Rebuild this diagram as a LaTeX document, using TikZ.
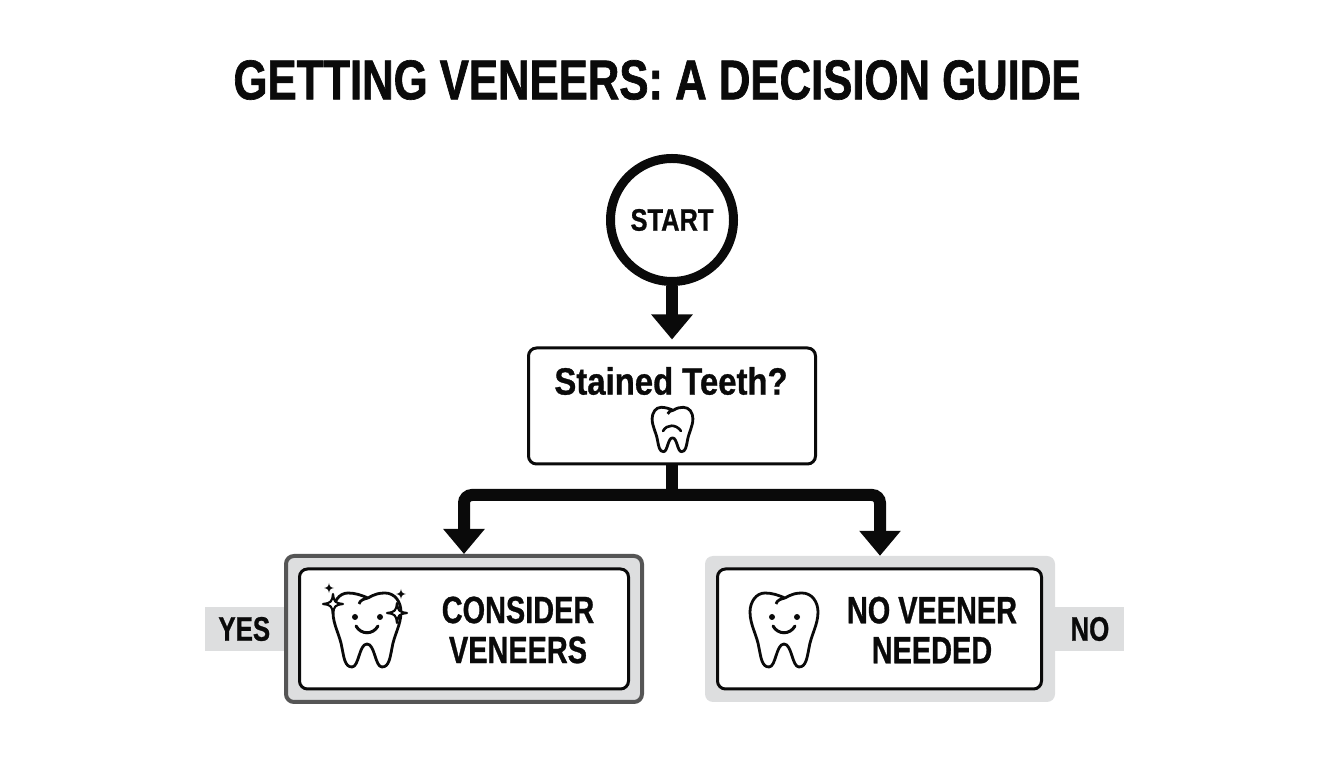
\documentclass[tikz,border=0pt]{standalone}
\usepackage{fontspec}
\setmainfont[FakeStretch=0.82,FakeBold=0.8]{Liberation Sans Bold}
\newfontfamily\titlefont[FakeStretch=0.78,FakeBold=1.2]{Liberation Sans Bold}
\newfontfamily\stainedfont[FakeStretch=0.865,FakeBold=0.8]{Liberation Sans Bold}
\newfontfamily\resultfont[FakeStretch=0.76,FakeBold=0.8]{Liberation Sans Bold}
\usepackage{tikz}
\usetikzlibrary{positioning,arrows.meta}
\definecolor{ink}{HTML}{0A0A0A}
\definecolor{panel}{HTML}{DDDEDF}
\definecolor{rim}{HTML}{555555}
\tikzset{
    x=1pt,y=1pt,
    every node/.style={text=ink,inner sep=0pt},
    flow/.style={draw=ink,line width=12pt,-{Triangle[length=25pt,width=40pt]}},
    stalk/.style={draw=ink,line width=12pt},
    whitebox/.style={draw=ink,line width=3pt,fill=white,rounded corners=8pt},
    outerbox/.style={fill=panel,rounded corners=8pt,minimum height=146pt},
    tagbox/.style={fill=panel,minimum height=44pt,font=\resultfont\fontsize{34}{36}\selectfont},
    resulttext/.style={font=\resultfont\fontsize{38}{40}\selectfont,align=center},
    toothshape/.pic={
        \draw[ink,line width=2.8pt,fill=white,line join=round]
            (1,32) .. controls (8,36) and (12,37) .. (18,37)
            .. controls (28,37) and (34,28) .. (34,18)
            .. controls (34,5) and (27,-5) .. (25,-18)
            .. controls (23,-28) and (22,-37) .. (15,-37)
            .. controls (8,-37) and (8,-14) .. (0,-14)
            .. controls (-8,-14) and (-8,-37) .. (-15,-37)
            .. controls (-22,-37) and (-23,-28) .. (-25,-18)
            .. controls (-27,-5) and (-34,5) .. (-34,18)
            .. controls (-34,28) and (-28,37) .. (-19,37)
            .. controls (-12,37) and (-6,35) .. (1,32)
            .. controls (-3,31) and (-7,30) .. (-8,26);
    },
    smileface/.pic={
        \fill[ink] (-12,13) circle (3) (13,13) circle (3);
        \draw[ink,line width=3pt,line cap=round] (-11,4) .. controls (-6,-5) and (6,-5) .. (11,4);
    },
    sparkle/.pic={
        \draw[ink,line width=2.2pt,fill=white,line join=round]
            (0,10) .. controls (1,2) and (2,1) .. (10,0)
            .. controls (2,-1) and (1,-2) .. (0,-10)
            .. controls (-1,-2) and (-2,-1) .. (-10,0)
            .. controls (-2,1) and (-1,2) .. (0,10) -- cycle;
    },
    sparkledot/.pic={
        \fill[ink]
            (0,5) .. controls (0.6,1.4) and (1.4,0.6) .. (5,0)
            .. controls (1.4,-0.6) and (0.6,-1.4) .. (0,-5)
            .. controls (-0.6,-1.4) and (-1.4,-0.6) .. (-5,0)
            .. controls (-1.4,0.6) and (-0.6,1.4) .. (0,5) -- cycle;
    },
}
\begin{document}
\begin{tikzpicture}
    \useasboundingbox (0,0) rectangle (1344,768);
    \node (title) at (657,688) {\titlefont\fontsize{56}{60}\selectfont GETTING VENEERS: A DECISION GUIDE};

    \node[circle,draw=ink,line width=9pt,fill=white,minimum size=123pt,font=\fontsize{31}{33}\selectfont] (start) at (672,548) {START};
    \node[whitebox,minimum width=287pt,minimum height=116pt] (stained) at (672,362) {};
    \node[font=\stainedfont\fontsize{38}{40}\selectfont] (stainedtext) at (671,387) {Stained Teeth?};
    \pic[scale=0.6] at (672.5,338.5) {toothshape};
    \draw[ink,line width=2.6pt,line cap=round] (663,337) .. controls (667,344) and (676,344) .. (681,337);

    \node[outerbox,draw=rim,line width=4pt,minimum width=356pt] (consider) at (464,139) {};
    \node[outerbox,minimum width=350pt] (noveneer) at (880,139) {};
    \node[whitebox,minimum width=329pt,minimum height=120pt] (considerbox) at (464,139) {};
    \node[whitebox,minimum width=324pt,minimum height=120pt] (noveneerbox) at (879.5,139) {};
    \node[tagbox,minimum width=79pt,left=0pt of consider] (yes) {YES};
    \node[tagbox,minimum width=69pt,right=0pt of noveneer] (no) {NO};
    \node[resulttext] (considertext) at (518,138) {CONSIDER\\VENEERS};
    \node[resulttext] (noveneertext) at (932,138) {NO VEENER\\NEEDED};

    \pic at (367,138) {toothshape};
    \pic at (367,138) {smileface};
    \pic at (784,138) {toothshape};
    \pic at (784,138) {smileface};
    \pic at (333,164) {sparkle};
    \pic at (397,155) {sparkle};
    \pic at (329,180) {sparkledot};
    \pic at (401,174) {sparkledot};

    \coordinate (branch) at (672,273);
    \draw[flow] (start.south) -- ([yshift=7pt]stained.north);
    \draw[stalk] (stained.south) -- (branch);
    \draw[flow,rounded corners=8pt] (branch) -| (consider.north);
    \draw[flow,rounded corners=8pt] (branch) -| (noveneer.north);
\end{tikzpicture}
\end{document}
